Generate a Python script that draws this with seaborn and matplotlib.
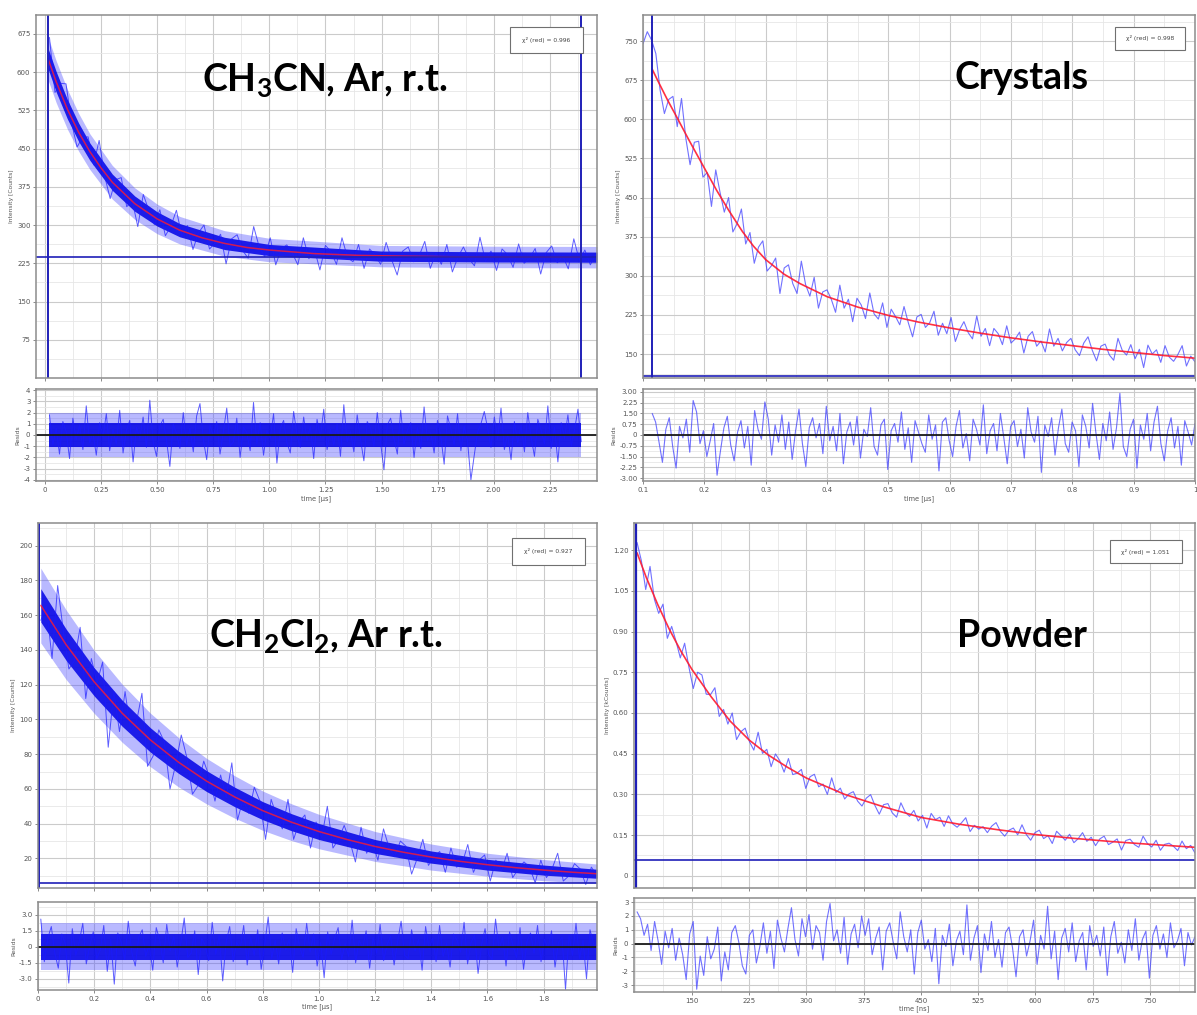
import numpy as np
import matplotlib
matplotlib.use("Agg")
import matplotlib.pyplot as plt
from matplotlib.ticker import AutoMinorLocator
from matplotlib.patches import Rectangle
import seaborn as sns

sns.set_theme(style="white")
plt.rcParams['font.family'] = ['DejaVu Sans']
plt.rcParams['mathtext.fontset'] = 'custom'
plt.rcParams['mathtext.rm'] = 'Lato:bold'
plt.rcParams['mathtext.it'] = 'Lato:bold'
plt.rcParams['mathtext.bf'] = 'Lato:bold'

# ---------------- CH3CN, Ar, r.t. ----------------
TL_FIT_T = [0.013, 0.05, 0.1, 0.15, 0.2, 0.25, 0.3, 0.4, 0.5, 0.6, 0.7, 0.8, 0.9, 1.0,
            1.2, 1.4, 1.6, 1.8, 2.0, 2.2, 2.39]
TL_FIT = [627, 581, 527, 482, 444, 412, 384, 342, 312, 290, 275, 264, 256, 251,
          244, 240.5, 239, 237.9, 237.5, 237.2, 237.1]
TL_BAND_T = [0.015, 0.05, 0.1, 0.15, 0.2, 0.3, 0.4, 0.5, 0.6, 0.8, 1.0, 1.5, 2.0, 2.46]
TL_CORE_LO = [605, 561, 508, 464, 427, 368, 327, 298, 277, 252, 240, 229, 227.5, 227]
TL_CORE_HI = [645, 601, 546, 500, 461, 400, 357, 326, 303, 276, 262, 249, 247.5, 247]
TL_EDGE_LO = [583, 540, 488, 445, 409, 351, 311, 283, 263, 239, 228, 218, 216.5, 216]
TL_EDGE_HI = [667, 622, 566, 519, 479, 417, 373, 341, 317, 289, 274, 260, 258.5, 258]
TL_DATA = [668, 560, 578, 577, 501, 453, 472, 473, 418, 466, 396, 352, 389, 393, 336, 348, 297, 360, 329, 301,
           330, 279, 298, 329, 278, 299, 252, 285, 300, 253, 265, 282, 224, 273, 281, 250, 235, 297, 257, 238,
           275, 222, 254, 261, 245, 222, 275, 234, 253, 212, 260, 248, 223, 275, 236, 228, 262, 215, 253, 241,
           223, 266, 232, 202, 249, 257, 228, 240, 268, 215, 245, 223, 262, 208, 237, 257, 234, 220, 276, 229,
           249, 211, 253, 242, 217, 263, 225, 235, 254, 204, 246, 259, 226, 240, 214, 273, 231, 251, 222, 243]
TL_RES = [1.8, -0.9, 0.6, -1.7, 1.2, 0.3, -2.1, 1.5, -0.4, 0.9, -1.3, 2.6, -0.7, 0.2, -1.8, 1.1, -0.2, 1.9, -1.4, 0.5,
          -0.8, 2.2, -1.6, 0.4, 1.3, -2.4, 0.7, -0.3, 1.6, -1.1, 3.1, -0.6, -1.9, 0.8, 1.4, -0.5, -2.8, 1.0, 0.1, -1.2,
          2.0, -0.9, 0.6, -1.5, 1.7, 2.8, -0.4, -2.2, 0.9, -0.1, 1.2, -1.7, 0.3, 2.4, -1.0, -0.6, 1.5, -2.0, 0.7, 0.2,
          -1.4, 2.9, -0.8, 1.1, -1.8, 0.4, -0.3, 1.9, -2.5, 0.6, 1.3, -0.7, -1.6, 2.1, 0.0, -1.1, 1.6, -0.5, 0.8, -2.1,
          1.4, -0.2, 2.3, -1.3, 0.5, -0.9, 1.0, -1.9, 2.7, -0.6, 0.3, -1.5, 1.8, -0.4, -2.3, 1.2, 0.6, -1.0, 2.0, -0.7,
          -3.1, 0.9, 1.5, -0.3, -1.7, 2.2, -0.8, 0.4, 1.1, -2.0, 0.7, -1.2, 2.5, -0.5, 0.2, -1.6, 1.3, -0.1, -2.6, 1.7,
          0.5, -0.9, 1.9, -1.4, 0.8, -0.6, -4.0, -1.8, 0.3, 1.0, 2.1, 0.6, -1.1, 1.6, -0.4, 2.4, -1.3, 0.1, -2.2, 1.2,
          -0.7, 0.9, -1.5, 2.0, -0.2, -1.9, 1.4, 0.4, -0.8, 2.6, -1.2, 0.7, -2.4, 1.1, -0.3, 1.8, -1.0, 0.5, 2.3, -0.6]

# ---------------- Crystals ----------------
TR_FIT_T = [0.115, 0.125, 0.14, 0.157, 0.175, 0.19, 0.205, 0.22, 0.24, 0.262, 0.28, 0.3, 0.33, 0.356,
            0.4, 0.45, 0.5, 0.55, 0.6, 0.65, 0.7, 0.75, 0.8, 0.85, 0.9, 0.95, 1.0]
TR_FIT = [696, 672, 637, 600, 560, 528, 496, 464, 425, 385, 357, 331, 303, 285,
          260, 240, 224, 211, 200, 190, 181, 173, 166, 159, 153, 147, 142]
TR_DATA = [745, 768, 752, 726, 656, 611, 638, 644, 586, 640, 564, 513, 556, 558, 489, 498, 433, 503, 460, 422,
           450, 384, 400, 428, 361, 383, 324, 355, 367, 309, 319, 334, 266, 315, 321, 285, 266, 328, 283, 261,
           297, 238, 269, 273, 255, 230, 282, 238, 255, 212, 257, 244, 218, 267, 227, 217, 248, 201, 236, 222,
           206, 241, 210, 183, 221, 226, 201, 210, 232, 186, 209, 189, 220, 174, 197, 212, 191, 179, 223, 184,
           199, 166, 199, 189, 168, 204, 171, 179, 192, 152, 184, 193, 165, 175, 154, 198, 165, 180, 156, 172,
           180, 158, 147, 171, 183, 157, 137, 165, 169, 148, 138, 180, 157, 148, 168, 141, 159, 124, 167, 150,
           158, 134, 166, 144, 136, 149, 166, 127, 146, 135]
TR_RES = [1.5, 0.9, -0.5, -1.9, 0.4, 1.2, -0.8, -2.3, 0.6, -0.2, 1.1, -1.2, 2.4, 1.6, -0.6, 0.3, -1.5, -0.4, 0.8, -2.8,
          -1.1, 0.5, 1.3, -0.7, -1.8, 0.2, 1.0, -0.9, 0.6, -2.1, 1.7, 0.4, -0.3, 2.3, 1.1, -1.4, 0.7, -0.5, 1.4, -1.0,
          0.9, -1.7, 0.3, 1.8, -0.6, -2.2, 0.5, 1.2, -0.2, 0.8, -1.3, 2.0, -0.4, 0.6, -1.1, 1.5, -2.0, 0.2, 0.9, -0.7,
          1.3, -1.6, 0.4, -0.1, 1.9, -0.8, -1.4, 0.7, 1.1, -2.4, 0.3, 0.8, -0.5, 1.6, -1.0, 0.5, -1.9, 1.0, 0.2, -0.6,
          -1.2, 1.4, -0.3, 0.7, -2.5, 0.9, 1.2, -0.4, -1.5, 0.6, 1.7, -0.9, 0.1, -1.8, 1.1, 0.4, -0.7, 2.1, -1.3, 0.3,
          0.8, -1.1, 1.5, -0.2, -2.0, 0.6, 1.0, -0.8, 0.4, -1.6, 1.9, 0.2, -0.5, 1.3, -2.6, 0.7, -0.1, 1.2, -1.4, 0.5,
          1.8, -0.6, -1.2, 0.9, 0.3, -2.2, 1.4, 0.6, -0.9, 2.2, 0.1, -1.7, 0.8, -0.4, 1.6, -1.0, 0.5, 2.9, -0.8, -1.5,
          0.4, 1.1, -2.3, 0.7, -0.3, 1.5, -1.1, 0.9, 2.0, -0.6, -1.8, 0.3, 1.2, -0.9, 0.6, -2.1, 1.0, 0.2, -0.7, 0.8]

# ---------------- CH2Cl2, Ar r.t. ----------------
BL_FIT_T = [0.01, 0.1, 0.2, 0.3, 0.4, 0.5, 0.6, 0.7, 0.8, 0.9, 1.0, 1.1, 1.2, 1.3, 1.4, 1.5, 1.6, 1.7, 1.8, 1.9, 1.99]
BL_FIT = [165.6, 143, 121.6, 103.5, 88.2, 75.4, 64.5, 55.4, 47.5, 41.0, 35.5, 30.9, 26.9, 23.6, 20.8, 18.4,
          16.4, 14.7, 13.3, 12.1, 11.2]
BL_BAND_T = [0.01, 0.1, 0.2, 0.3, 0.4, 0.5, 0.6, 0.7, 0.8, 0.9, 1.0, 1.2, 1.4, 1.6, 1.8, 1.99]
BL_CORE_LO = [156, 134, 113.5, 96, 81.2, 69, 58.5, 49.8, 42.3, 36.1, 30.9, 22.9, 17.3, 13.3, 10.4, 8.6]
BL_CORE_HI = [175.2, 152, 129.7, 111, 95.2, 81.8, 70.5, 61, 52.7, 45.9, 40.1, 30.9, 24.3, 19.5, 16.2, 13.8]
BL_EDGE_LO = [144, 123, 103.5, 86.8, 72.8, 61.2, 51.4, 43.2, 36.2, 30.4, 25.6, 18.3, 13.3, 9.8, 7.2, 5.6]
BL_EDGE_HI = [187, 163, 139.7, 120.2, 103.6, 89.6, 77.6, 67.6, 58.8, 51.6, 45.4, 35.5, 28.3, 23.0, 19.4, 16.8]
BL_DATA = [157, 165, 135, 177, 151, 129, 134, 153, 112, 135, 121, 133, 84, 116, 93, 116, 93, 98, 115, 73,
           79, 94, 87, 60, 74, 91, 78, 57, 62, 76, 67, 53, 68, 55, 75, 42, 54, 46, 61, 53,
           31, 54, 44, 37, 54, 31, 41, 45, 26, 41, 32, 50, 26, 31, 39, 30, 18, 38, 23, 30,
           19, 37, 26, 21, 30, 27, 11, 20, 31, 16, 21, 24, 12, 26, 15, 17, 28, 12, 19, 22,
           7, 19, 13, 23, 9, 14, 18, 15, 6, 19, 9, 14, 23, 7, 10, 17, 14, 5, 15, 10]
BL_RES = [2.6, -1.4, 0.8, 1.9, -0.6, -2.0, 1.2, 0.3, -3.4, 1.7, -0.8, 0.5, 2.2, -1.6, 0.1, 1.4, -1.1, -0.3, 2.0, -2.3,
          0.7, -3.5, 1.3, 0.4, -1.2, 2.4, -0.5, -1.8, 0.9, 1.6, -0.9, 0.2, -2.2, 1.8, 0.6, -1.5, 2.1, -0.4, 1.0, -1.9,
          0.3, 2.7, -1.0, -0.6, 1.5, -2.6, 0.8, 0.1, -1.3, 2.3, -0.7, 1.1, -3.2, 0.5, 1.9, -1.4, 0.4, -0.2, 2.0, -1.7,
          0.9, -0.8, 1.6, -2.1, 0.2, 2.8, -1.1, 0.6, -1.6, 1.3, -0.3, 0.7, -2.4, 1.7, 0.0, -1.0, 2.2, -0.5, 1.2, -1.8,
          0.4, -2.9, 1.4, -0.7, 0.8, 1.8, -1.2, 0.3, -0.9, 2.5, -1.5, 0.6, -0.1, 1.5, -2.0, 0.9, -0.6, 2.1, -1.3, 0.2,
          1.0, -1.7, 0.5, 2.4, -0.8, -1.1, 1.6, -0.4, 0.7, -2.2, 1.9, -0.2, 0.8, -1.4, 2.0, -0.9, 0.3, -1.9, 1.2, 0.6,
          -0.5, 2.3, -1.6, 0.4, 1.1, -2.5, 0.2, 1.7, -0.7, -1.2, 2.6, -0.3, 0.9, -1.8, 1.4, 0.1, -1.0, 1.8, -2.1, 0.5,
          1.3, -0.6, 2.0, -1.4, 0.7, -0.2, 1.5, -1.9, 0.4, 0.9, -4.0, 1.1, -0.8, 2.2, -1.1, 0.6, -3.0, 1.6, 0.3, -0.9]

# ---------------- Powder ----------------
BR_FIT_T = [78, 90, 105, 120, 135, 150, 175, 200, 225, 250, 275, 300, 350, 400, 450, 500, 550, 600, 650,
            700, 750, 809]
BR_FIT = [1.19, 1.10, 1.00, 0.91, 0.83, 0.76, 0.66, 0.57, 0.50, 0.445, 0.40, 0.36, 0.30, 0.255, 0.215, 0.19,
          0.17, 0.152, 0.138, 0.126, 0.116, 0.105]
BR_DATA = [1.228, 1.161, 1.055, 1.140, 1.019, 0.967, 1.001, 0.875, 0.919, 0.865,
           0.803, 0.857, 0.768, 0.690, 0.750, 0.740, 0.669, 0.668, 0.693, 0.587,
           0.613, 0.559, 0.600, 0.502, 0.531, 0.544, 0.494, 0.463, 0.529, 0.451,
           0.466, 0.402, 0.449, 0.424, 0.382, 0.432, 0.373, 0.378, 0.392, 0.322,
           0.365, 0.374, 0.328, 0.338, 0.300, 0.361, 0.307, 0.323, 0.283, 0.302,
           0.310, 0.275, 0.257, 0.286, 0.299, 0.259, 0.227, 0.262, 0.266, 0.232,
           0.216, 0.269, 0.235, 0.219, 0.241, 0.202, 0.223, 0.176, 0.230, 0.207,
           0.216, 0.182, 0.221, 0.191, 0.179, 0.195, 0.214, 0.163, 0.186, 0.172,
           0.181, 0.159, 0.183, 0.196, 0.164, 0.146, 0.168, 0.176, 0.151, 0.188,
           0.152, 0.131, 0.159, 0.168, 0.137, 0.148, 0.119, 0.164, 0.148, 0.131,
           0.153, 0.122, 0.137, 0.159, 0.127, 0.142, 0.111, 0.136, 0.146, 0.115,
           0.124, 0.136, 0.095, 0.130, 0.135, 0.115, 0.105, 0.146, 0.119, 0.106,
           0.131, 0.094, 0.116, 0.120, 0.109, 0.093, 0.128, 0.100, 0.112, 0.084]
BR_RES = [2.3, 1.8, 0.6, 1.4, -0.5, 1.6, 0.2, -1.5, 0.9, -0.3, 1.1, -1.2, 0.4, -0.8, -2.6, 0.7, 1.6, -3.3, -0.9, -2.3,
          0.5, -1.1, -0.4, 1.2, -2.7, -0.6, -1.9, 0.8, 1.3, 0.1, -1.6, -2.2, 0.6, 1.0, -1.4, -0.2, 1.5, -0.7, 0.9, -1.8,
          1.7, 0.4, -0.6, 1.1, 2.6, 0.3, -0.9, 1.8, 0.5, 2.1, -0.4, 1.3, 0.8, -1.2, 1.6, 2.9, 0.2, 1.0, -0.7, 1.9,
          -1.5, 0.7, 1.4, -0.3, 2.0, 0.6, 1.8, -0.8, 0.4, 1.2, -1.9, 0.9, 1.5, 0.1, -1.1, 2.3, 0.5, -0.6, 1.0, -2.2,
          0.8, 1.7, -0.4, 0.3, -1.3, 1.1, -2.9, 0.6, -0.2, 1.4, -1.6, 0.2, 0.9, -0.8, 2.8, -1.2, 0.4, 1.3, -2.1, 0.7,
          -0.5, 1.6, -1.0, 0.3, -1.7, 0.8, 1.2, -0.3, -2.4, 0.5, 1.0, -0.9, 0.2, 1.7, -1.5, 0.6, -0.4, 2.7, -1.1, 0.9,
          -2.6, 0.4, 1.1, -0.6, 1.5, -1.3, 0.2, 0.8, -1.9, 1.3, -0.2, 0.6, -0.9, 1.2, -2.3, 0.5, 1.6, -0.7, 0.1, -1.4,
          1.0, -0.5, 1.8, -1.2, 0.3, 0.9, -2.5, 0.6, 1.3, -0.4, 0.7, -1.0, 1.5, -0.3, 0.2, 1.1, -1.6, 0.8, -0.1, 0.5]

CHI2 = ["0.996", "0.998", "0.927", "1.051"]
TITLES = [r"CH$_3$CN, Ar, r.t.", "Crystals", r"CH$_2$Cl$_2$, Ar r.t.", "Powder"]

W, H = 1197, 1015
BLUE = "#1a1aff"
SPARSE = "#3535ff"
RED = "#ff1a2e"
CURSOR = "#1f1fb8"
EDGE = "#5050ff"
CORE = "#0000e6"

fig = plt.figure(figsize=(W / 100, H / 100), dpi=100)
fig.patch.set_facecolor("white")


def px_axes(x0, y0, x1, y1):
    return fig.add_axes([x0 / W, 1 - y1 / H, (x1 - x0) / W, (y1 - y0) / H])


def style(ax, xlim, ylim, xticks, yticks, xlab, ylab, show_x):
    ax.set_facecolor("white")
    ax.set_xlim(xlim)
    ax.set_ylim(ylim)
    ax.set_xticks(xticks)
    ax.set_yticks(yticks)
    ax.set_yticklabels(ylab)
    ax.set_xticklabels(xlab if show_x else [])
    ax.xaxis.set_minor_locator(AutoMinorLocator(2))
    ax.yaxis.set_minor_locator(AutoMinorLocator(2))
    ax.grid(True, which="major", color="#cbcbcb", lw=0.8)
    ax.grid(True, which="minor", color="#e6e6e6", lw=0.6)
    ax.set_axisbelow(True)
    ax.tick_params(which="major", length=2.5, width=0.6, color="#777777", labelsize=5,
                   labelcolor="#555555", pad=1.5, direction="out", left=True, bottom=True)
    ax.tick_params(which="minor", length=0)
    for s in ax.spines.values():
        s.set_color("#8c8c8c")
        s.set_linewidth(1.1)


def fmt_list(vals, f):
    return ["0" if abs(v) < 1e-9 else f.format(v) for v in vals]


def chi_box(ax, x0, y0, x1, y1, val):
    ax.add_patch(Rectangle((x0, y0), x1 - x0, y1 - y0, transform=ax.transAxes, facecolor="white",
                           edgecolor="#707070", lw=0.8, zorder=10))
    ax.text((x0 + x1) / 2, (y0 + y1) / 2, "χ² (red) = " + val, transform=ax.transAxes,
            ha="center", va="center", fontsize=4.3, color="#444444", zorder=11)


def line(ax, x, y, **kw):
    sns.lineplot(x=np.asarray(x, float), y=np.asarray(y, float), ax=ax, estimator=None,
                 sort=False, legend=False, **kw)


# =============== top-left ===============
ax = px_axes(36, 15, 597, 378)
xl = (-0.04, 2.46)
xt = [0, 0.25, 0.5, 0.75, 1.0, 1.25, 1.5, 1.75, 2.0, 2.25]
yt = [75, 150, 225, 300, 375, 450, 525, 600, 675]
style(ax, xl, (0, 712), xt, yt, None, [str(v) for v in yt], False)
ax.fill_between(TL_BAND_T, TL_EDGE_LO, TL_EDGE_HI, color=EDGE, alpha=0.4, lw=0)
ax.fill_between(TL_BAND_T, TL_CORE_LO, TL_CORE_HI, color=CORE, alpha=0.85, lw=0)
line(ax, np.linspace(0.02, 2.455, len(TL_DATA)), TL_DATA, color=BLUE, lw=0.7, alpha=0.7)
line(ax, TL_FIT_T, TL_FIT, color=RED, lw=1.1, alpha=0.8)
ax.axvline(0.013, color=CURSOR, lw=1.4)
ax.axvline(2.39, color=CURSOR, lw=1.4)
ax.axhline(237, color=CURSOR, lw=1.2)
ax.set_ylabel("Intensity [Counts]", fontsize=4.3, color="#555555", labelpad=2)
chi_box(ax, 0.845, 0.895, 0.975, 0.967, CHI2[0])

ax = px_axes(36, 389, 597, 481)
rt = [-4, -3, -2, -1, 0, 1, 2, 3, 4]
style(ax, xl, (-4.1, 4.1), xt, rt, fmt_list(xt, "{:.2f}"), [str(v) for v in rt], True)
ax.fill_between([0.02, 2.39], [-2.0, -2.0], [2.0, 2.0], color=EDGE, alpha=0.4, lw=0)
ax.fill_between([0.02, 2.39], [-1.1, -1.1], [1.1, 1.1], color=CORE, alpha=0.85, lw=0)
line(ax, np.linspace(0.02, 2.39, len(TL_RES)), TL_RES, color=BLUE, lw=0.7, alpha=0.7)
ax.axhline(0, color="#1a1a1a", lw=1.3)
ax.set_ylabel("Resids", fontsize=4.3, color="#555555", labelpad=2)
ax.set_xlabel("time [µs]", fontsize=4.8, color="#555555", labelpad=2)

# =============== top-right ===============
ax = px_axes(643, 15, 1195, 378)
xl = (0.1, 1.0)
xt = [0.1, 0.2, 0.3, 0.4, 0.5, 0.6, 0.7, 0.8, 0.9, 1.0]
yt = [150, 225, 300, 375, 450, 525, 600, 675, 750]
style(ax, xl, (104, 800), xt, yt, None, [str(v) for v in yt], False)
line(ax, np.linspace(0.1, 1.0, len(TR_DATA)), TR_DATA, color=SPARSE, lw=0.8, alpha=0.7)
line(ax, TR_FIT_T, TR_FIT, color=RED, lw=1.2, alpha=0.9)
ax.axvline(0.115, color=CURSOR, lw=1.4)
ax.axhline(108, color=CURSOR, lw=1.2)
ax.set_ylabel("Intensity [Counts]", fontsize=4.3, color="#555555", labelpad=2)
chi_box(ax, 0.855, 0.904, 0.982, 0.967, CHI2[1])

ax = px_axes(643, 389, 1195, 481)
rt = [-3.0, -2.25, -1.5, -0.75, 0, 0.75, 1.5, 2.25, 3.0]
xlab = ["0.1", "0.2", "0.3", "0.4", "0.5", "0.6", "0.7", "0.8", "0.9", "1"]
style(ax, xl, (-3.2, 3.2), xt, rt, xlab, fmt_list(rt, "{:.2f}"), True)
line(ax, np.linspace(0.115, 1.0, len(TR_RES)), TR_RES, color=SPARSE, lw=0.8, alpha=0.7)
ax.axhline(0, color="#1a1a1a", lw=1.3)
ax.set_ylabel("Resids", fontsize=4.3, color="#555555", labelpad=2)
ax.set_xlabel("time [µs]", fontsize=4.8, color="#555555", labelpad=2)

# =============== bottom-left ===============
ax = px_axes(38, 523, 597, 888)
xl = (0, 1.99)
xt = [0, 0.2, 0.4, 0.6, 0.8, 1.0, 1.2, 1.4, 1.6, 1.8]
yt = [20, 40, 60, 80, 100, 120, 140, 160, 180, 200]
style(ax, xl, (3, 213), xt, yt, None, [str(v) for v in yt], False)
ax.fill_between(BL_BAND_T, BL_EDGE_LO, BL_EDGE_HI, color=EDGE, alpha=0.4, lw=0)
ax.fill_between(BL_BAND_T, BL_CORE_LO, BL_CORE_HI, color=CORE, alpha=0.85, lw=0)
line(ax, np.linspace(0.01, 1.99, len(BL_DATA)), BL_DATA, color=BLUE, lw=0.7, alpha=0.7)
line(ax, BL_FIT_T, BL_FIT, color=RED, lw=1.1, alpha=0.8)
ax.axvline(0.005, color=CURSOR, lw=1.4)
ax.axhline(5.6, color=CURSOR, lw=1.2)
ax.set_ylabel("Intensity [Counts]", fontsize=4.3, color="#555555", labelpad=2)
chi_box(ax, 0.848, 0.885, 0.979, 0.959, CHI2[2])

ax = px_axes(38, 902, 597, 990)
rt = [-3.0, -1.5, 0, 1.5, 3.0]
style(ax, xl, (-4.05, 4.2), xt, rt, fmt_list(xt, "{:.1f}"), fmt_list(rt, "{:.1f}"), True)
ax.fill_between([0.01, 1.99], [-2.2, -2.2], [2.2, 2.2], color=EDGE, alpha=0.4, lw=0)
ax.fill_between([0.01, 1.99], [-1.2, -1.2], [1.2, 1.2], color=CORE, alpha=0.85, lw=0)
line(ax, np.linspace(0.01, 1.99, len(BL_RES)), BL_RES, color=BLUE, lw=0.7, alpha=0.7)
ax.axhline(0, color="#1a1a1a", lw=1.3)
ax.set_ylabel("Resids", fontsize=4.3, color="#555555", labelpad=2)
ax.set_xlabel("time [µs]", fontsize=4.8, color="#555555", labelpad=1)

# =============== bottom-right ===============
ax = px_axes(634, 523, 1195, 888)
xl = (74, 809)
xt = [150, 225, 300, 375, 450, 525, 600, 675, 750]
yt = [0, 0.15, 0.30, 0.45, 0.60, 0.75, 0.90, 1.05, 1.20]
style(ax, xl, (-0.045, 1.30), xt, yt, None, fmt_list(yt, "{:.2f}"), False)
line(ax, np.linspace(78, 809, len(BR_DATA)), BR_DATA, color=SPARSE, lw=0.8, alpha=0.7)
line(ax, BR_FIT_T, BR_FIT, color=RED, lw=1.2, alpha=0.9)
ax.axvline(76, color=CURSOR, lw=1.6)
ax.axhline(0.06, color=CURSOR, lw=1.2)
ax.set_ylabel("Intensity [kCounts]", fontsize=4.3, color="#555555", labelpad=2)
chi_box(ax, 0.848, 0.890, 0.976, 0.953, CHI2[3])

ax = px_axes(634, 898, 1195, 992)
rt = [-3, -2, -1, 0, 1, 2, 3]
style(ax, xl, (-3.5, 3.3), xt, rt, [str(v) for v in xt], [str(v) for v in rt], True)
line(ax, np.linspace(78, 809, len(BR_RES)), BR_RES, color=SPARSE, lw=0.8, alpha=0.7)
ax.axhline(0, color="#1a1a1a", lw=1.3)
ax.set_ylabel("Resids", fontsize=4.3, color="#555555", labelpad=2)
ax.set_xlabel("time [ns]", fontsize=4.8, color="#555555", labelpad=1)

# =============== big sample labels ===============
for (cx, cy), txt in zip([(325, 80), (1022, 78), (326, 636), (1022, 636)], TITLES):
    fig.text(cx / W, 1 - cy / H, txt, ha="center", va="center", fontsize=27,
             fontfamily="Lato", fontweight="bold", color="black", zorder=20)

fig.savefig("out.png", dpi=100, facecolor="white")
